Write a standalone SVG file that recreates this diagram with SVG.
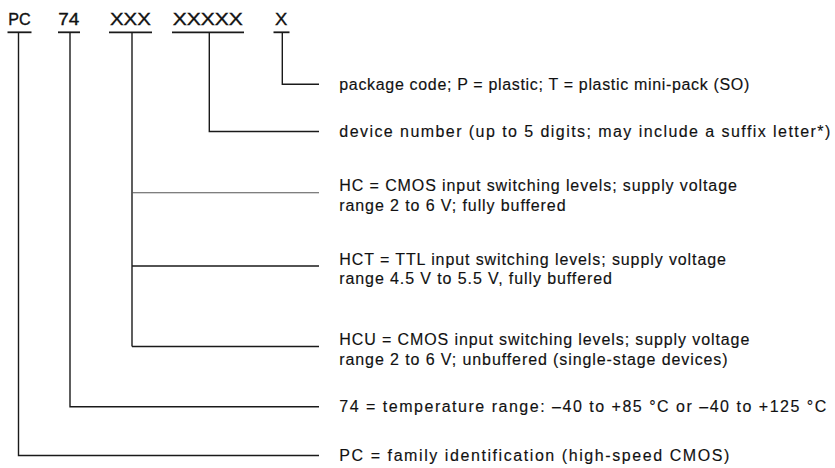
<svg xmlns="http://www.w3.org/2000/svg" width="835" height="468" viewBox="0 0 835 468">
<style>
.bg{fill:#ffffff}
.hd{font-family:"Liberation Sans",Arial,sans-serif;font-size:16px;fill:#111;stroke:#111;stroke-width:0.35}
.tx{font-family:"Liberation Sans",Arial,sans-serif;font-size:16px;fill:#111;stroke:#111;stroke-width:0.15}
.sp{letter-spacing:0.9px}
.ul{stroke:#1a1a1a;stroke-width:1.8;fill:none}
.cn{stroke:#1a1a1a;stroke-width:1.4;fill:none}
.cl{stroke:#555;stroke-width:1.1;fill:none}
</style>
<rect class="bg" x="0" y="0" width="835" height="468"/>
<g id="code-PC"><text class="hd" x="8.3" y="25" textLength="22.4" lengthAdjust="spacingAndGlyphs">PC</text><line class="ul" x1="7.5" y1="32.3" x2="31.5" y2="32.3"/></g>
<g id="code-74"><text class="hd" x="58.3" y="25" textLength="21" lengthAdjust="spacingAndGlyphs">74</text><line class="ul" x1="58" y1="32.3" x2="80" y2="32.3"/></g>
<g id="code-XXX"><text class="hd" x="110" y="25" textLength="40.7" lengthAdjust="spacingAndGlyphs">XXX</text><line class="ul" x1="109" y1="32.3" x2="152" y2="32.3"/></g>
<g id="code-XXXXX"><text class="hd" x="172.7" y="25" textLength="70" lengthAdjust="spacingAndGlyphs">XXXXX</text><line class="ul" x1="172" y1="32.3" x2="244" y2="32.3"/></g>
<g id="code-X"><text class="hd" x="275" y="25" textLength="12.3" lengthAdjust="spacingAndGlyphs">X</text><line class="ul" x1="273.5" y1="32.3" x2="289.5" y2="32.3"/></g>
<g id="connectors">
<polyline class="cn" points="282.3,32.3 282.3,84.3 319,84.3"/>
<polyline class="cn" points="209.3,32.3 209.3,131.5 319,131.5"/>
<line class="cn" x1="132" y1="32.3" x2="132" y2="346.5"/>
<line class="cl" x1="132" y1="192.7" x2="319" y2="192.7"/>
<line class="cn" x1="132" y1="266" x2="319" y2="266"/>
<line class="cn" x1="132" y1="346.5" x2="319" y2="346.5"/>
<polyline class="cn" points="70,32.3 70,406.7 319,406.7"/>
<polyline class="cn" points="18.5,32.3 18.5,455.5 319,455.5"/>
</g>
<g id="desc-package"><text class="tx" x="339.3" y="89.8" textLength="410" lengthAdjust="spacing">package code; P = plastic; T = plastic mini-pack (SO)</text></g>
<g id="desc-device"><text class="tx" x="339.3" y="137" textLength="491" lengthAdjust="spacing">device number (up to 5 digits; may include a suffix letter*)</text></g>
<g id="desc-HC"><text class="tx sp" x="339.3" y="191">HC = CMOS input switching levels; supply voltage</text><text class="tx sp" x="339.3" y="210.5">range 2 to 6 V; fully buffered</text></g>
<g id="desc-HCT"><text class="tx sp" x="339.3" y="264.5">HCT = TTL input switching levels; supply voltage</text><text class="tx sp" x="339.3" y="284">range 4.5 V to 5.5 V, fully buffered</text></g>
<g id="desc-HCU"><text class="tx sp" x="339.3" y="345">HCU = CMOS input switching levels; supply voltage</text><text class="tx sp" x="339.3" y="364.5">range 2 to 6 V; unbuffered (single-stage devices)</text></g>
<g id="desc-74"><text class="tx" x="339.3" y="412.2" textLength="487" lengthAdjust="spacing">74 = temperature range: –40 to +85 °C or –40 to +125 °C</text></g>
<g id="desc-PC"><text class="tx" x="339.3" y="461" textLength="390" lengthAdjust="spacing">PC = family identification (high-speed CMOS)</text></g>
</svg>
